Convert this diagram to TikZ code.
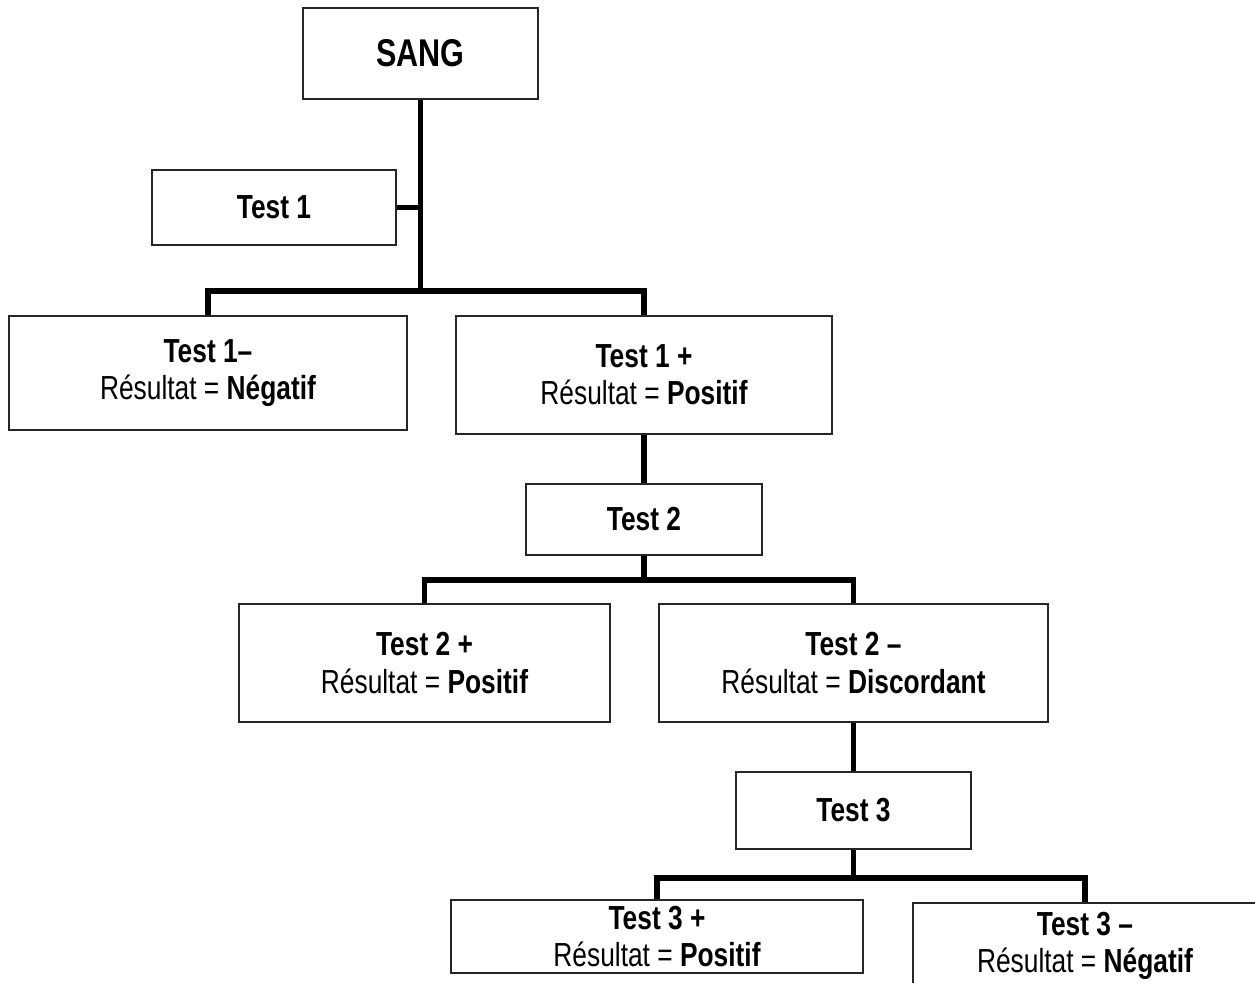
\documentclass[tikz,border=0pt]{standalone}
\usepackage{fontspec}
\setmainfont{Liberation Sans}[FakeStretch=0.79]
\begin{document}
\begin{tikzpicture}[x=0.75pt,y=-0.75pt,
  box/.style={draw=black!85,line width=0.8pt,fill=white,align=center,inner sep=0pt,
    font=\fontsize{25}{28}\selectfont},
  conn/.style={line width=3.8pt,black}]
\useasboundingbox (0,0) rectangle (1255,982);
\clip (0,0) rectangle (1255,982);

% nodes (centre, width x height)
\node[box,minimum width=235*0.75pt,minimum height=91*0.75pt,font=\fontsize{29}{32}\selectfont\bfseries]
  (sang) at (420.5,53.5) {SANG};
\node[box,minimum width=244*0.75pt,minimum height=75*0.75pt] (test1) at (274,207.5) {\textbf{Test 1}};
\node[box,minimum width=398*0.75pt,minimum height=114*0.75pt] (t1neg) at (208,373)
  {\textbf{Test 1–}\\Résultat = \textbf{Négatif}};
\node[box,minimum width=376*0.75pt,minimum height=118*0.75pt] (t1pos) at (644,375)
  {\textbf{Test 1 +}\\Résultat = \textbf{Positif}};
\node[box,minimum width=236*0.75pt,minimum height=71*0.75pt] (test2) at (644,519.5) {\textbf{Test 2}};
\node[box,minimum width=371*0.75pt,minimum height=118*0.75pt] (t2pos) at (424.5,663)
  {\textbf{Test 2 +}\\Résultat = \textbf{Positif}};
\node[box,minimum width=389*0.75pt,minimum height=118*0.75pt] (t2neg) at (853.5,663)
  {\textbf{Test 2 –}\\Résultat = \textbf{Discordant}};
\node[box,minimum width=235*0.75pt,minimum height=77*0.75pt] (test3) at (853.5,810.5) {\textbf{Test 3}};
\node[box,minimum width=412*0.75pt,minimum height=73*0.75pt] (t3pos) at (657,936.5)
  {\textbf{Test 3 +}\\Résultat = \textbf{Positif}};
\node[box,minimum width=344*0.75pt,minimum height=86*0.75pt] (t3neg) at (1085,946)
  {\textbf{Test 3 –}\\Résultat = \textbf{Négatif}};

% branching points
\coordinate (b1) at (420.5,291);
\coordinate (b2) at (644,580);
\coordinate (b3) at (853.5,878);

% connectors
\draw[conn] (sang.south) -- (b1);
\draw[conn] (test1.east) -- (test1.east -| sang.south);
\draw[conn] (t1neg.north) |- (b1) -| (t1pos.north);
\draw[conn] (t1pos.south) -- (test2.north);
\draw[conn] (test2.south) -- (b2);
\draw[conn] (t2pos.north) |- (b2) -| (t2neg.north);
\draw[conn] (t2neg.south) -- (test3.north);
\draw[conn] (test3.south) -- (b3);
\draw[conn] (t3pos.north) |- (b3) -| (t3neg.north);
\end{tikzpicture}
\end{document}
